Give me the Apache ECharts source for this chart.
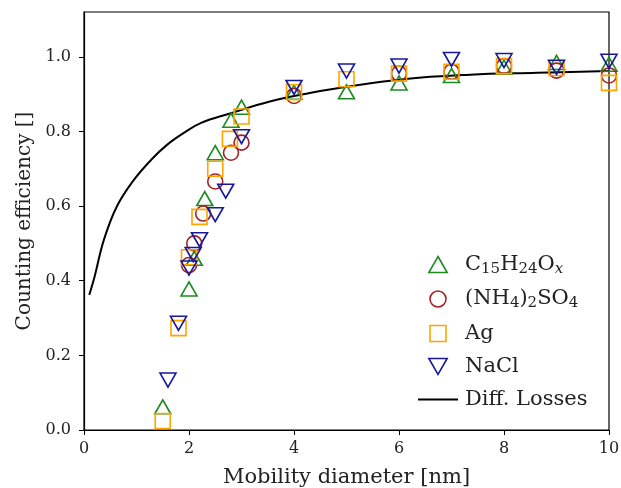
<!DOCTYPE html>
<html>
<head>
<meta charset="utf-8">
<script src="https://cdn.jsdelivr.net/npm/echarts@6/dist/echarts.min.js"></script>
<style>
  html, body { margin: 0; padding: 0; background: #fff; }
  #chart { width: 621px; height: 488px; }
</style>
</head>
<body>
<div id="chart"></div>
<script>
// values
const terpX = [1.5, 2.0, 2.1, 2.3, 2.5, 2.8, 3.0, 4, 5, 6, 7, 8, 9, 10];
const terpY = [0.062, 0.378, 0.46, 0.62, 0.743, 0.83, 0.865, 0.905, 0.906, 0.93, 0.95, 0.972, 0.985, 0.98];

const amsX = [2.0, 2.1, 2.27, 2.5, 2.8, 3.0, 4, 6, 7, 8, 9, 10];
const amsY = [0.442, 0.50, 0.58, 0.666, 0.743, 0.77, 0.895, 0.955, 0.96, 0.975, 0.963, 0.95];

const agX = [1.5, 1.8, 2.0, 2.2, 2.5, 2.78, 3.0, 4, 5, 6, 7, 8, 9, 10];
const agY = [0.024, 0.273, 0.463, 0.571, 0.70, 0.78, 0.84, 0.905, 0.94, 0.955, 0.96, 0.975, 0.97, 0.93];

const naclX = [1.6, 1.8, 2.0, 2.08, 2.2, 2.5, 2.7, 3.0, 4, 5, 6, 7, 8, 9, 10];
const naclY = [0.134, 0.286, 0.434, 0.47, 0.51, 0.577, 0.64, 0.786, 0.918, 0.962, 0.975, 0.993, 0.99, 0.972, 0.988];

const lossX = [0.1, 0.2, 0.38, 0.63, 0.95, 1.28, 1.58, 1.9, 2.23, 2.78, 3.54, 4.3, 4.8, 6.08, 7.35, 8.63, 10];
const lossY = [0.362, 0.41, 0.51, 0.60, 0.67, 0.724, 0.764, 0.796, 0.823, 0.848, 0.88, 0.903, 0.915, 0.94, 0.952, 0.957, 0.962];

const legendLabels = {
    'C15H24Ox': 'C{s|15}H{s|24}O{i|x}',
    '(NH4)2SO4': '(NH{s|4}){s|2}SO{s|4}',
    'Ag': 'Ag',
    'NaCl': 'NaCl',
    'Diff. Losses': 'Diff. Losses'
};

const FONT = 'DejaVu Serif';
const GREEN = '#1F8A1F', RED = '#A02424', ORANGE = '#FFA500', BLUE = '#18189A';
const UP = 'path://M8,0 L16,14 L0,14 Z';
const DOWN = 'path://M0,0 L16,0 L8,14 Z';
const SQUARE = 'path://M0,0 L14,0 L14,14 L0,14 Z';
const zip = (xs, ys) => xs.map((x, i) => [x, ys[i]]);

function hollow(name, xs, ys, color, symbol, size) {
    return {
        name: name,
        type: 'scatter',
        data: zip(xs, ys),
        symbol: symbol,
        symbolSize: size,
        itemStyle: { color: 'rgba(0,0,0,0)', borderColor: color, borderWidth: 1.6, opacity: 1 },
        z: 3
    };
}

function legendItem(name, icon, color) {
    return {
        name: name,
        icon: icon,
        itemStyle: { color: 'rgba(0,0,0,0)', borderColor: color, borderWidth: 1.6, opacity: 1 }
    };
}

const chart = echarts.init(document.getElementById('chart'), null, { renderer: 'canvas' });

chart.setOption({
    animation: false,
    backgroundColor: '#fff',
    grid: {
        left: 84, right: 12, top: 12, bottom: 58,
        outerBoundsMode: 'none', containLabel: false,
        show: true, borderColor: '#000', borderWidth: 1.2
    },
    xAxis: {
        type: 'value', min: 0, max: 10, interval: 2,
        name: 'Mobility diameter [nm]', nameLocation: 'middle', nameGap: 37,
        nameTextStyle: { fontFamily: FONT, fontSize: 21, color: '#222' },
        axisLine: { lineStyle: { color: '#000', width: 1.2 } },
        axisTick: { length: 5, lineStyle: { color: '#000' } },
        axisLabel: { fontFamily: FONT, fontSize: 16, color: '#222', margin: 11 },
        splitLine: { show: false }
    },
    yAxis: {
        type: 'value', min: 0, max: 1.12, interval: 0.2,
        name: 'Counting efficiency []', nameLocation: 'middle', nameGap: 49,
        nameTextStyle: { fontFamily: FONT, fontSize: 20, color: '#222' },
        axisLine: { show: true, lineStyle: { color: '#000', width: 1.2 } },
        axisTick: { show: true, length: 5, lineStyle: { color: '#000' } },
        axisLabel: { fontFamily: FONT, fontSize: 16, color: '#222', margin: 13, showMaxLabel: false,
            formatter: v => v.toFixed(1) },
        splitLine: { show: false }
    },
    legend: {
        orient: 'vertical',
        left: 418, top: 254,
        padding: 0,
        itemWidth: 40, itemHeight: 16,
        itemGap: 12,
        symbolKeepAspect: true,
        data: [
            legendItem('C15H24Ox', UP, GREEN),
            legendItem('(NH4)2SO4', 'circle', RED),
            legendItem('Ag', SQUARE, ORANGE),
            legendItem('NaCl', DOWN, BLUE),
            { name: 'Diff. Losses', icon: 'path://M0,0 L40,0 L40,2 L0,2 Z', itemStyle: { color: '#000', borderWidth: 0 } }
        ],
        formatter: name => legendLabels[name],
        textStyle: {
            fontFamily: FONT, fontSize: 21, color: '#222', padding: [0, 0, 0, 2],
            rich: {
                s: { fontFamily: FONT, fontSize: 15, color: '#222', padding: [9, 0, 0, 0] },
                i: { fontFamily: FONT, fontSize: 15, fontStyle: 'italic', color: '#222', padding: [9, 0, 0, 0] }
            }
        }
    },
    series: [
        hollow('C15H24Ox', terpX, terpY, GREEN, UP, [16, 14]),
        hollow('(NH4)2SO4', amsX, amsY, RED, 'circle', 15),
        hollow('Ag', agX, agY, ORANGE, SQUARE, 15),
        hollow('NaCl', naclX, naclY, BLUE, DOWN, [16, 14]),
        {
            name: 'Diff. Losses',
            type: 'line',
            data: zip(lossX, lossY),
            symbol: 'none',
            smooth: 0.4,
            lineStyle: { color: '#000', width: 2 },
            itemStyle: { color: '#000' },
            z: 2
        }
    ]
});
</script>
</body>
</html>
